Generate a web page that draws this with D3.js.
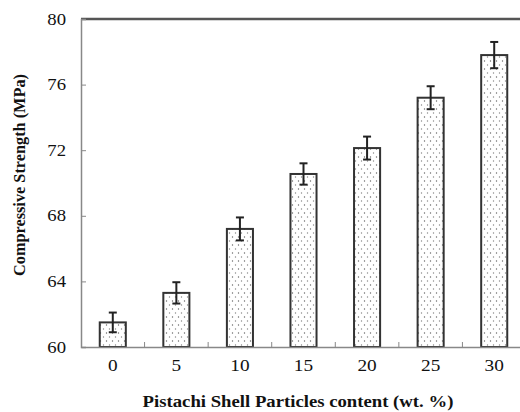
<!DOCTYPE html>
<html>
<head>
<meta charset="utf-8">
<script src="https://cdn.jsdelivr.net/npm/d3@7"></script>
<style>
  body { margin: 0; background: #fff; }
  svg text { font-family: 'Liberation Serif', 'Times New Roman', Times, serif; fill: #111; }
</style>
</head>
<body>
<svg id="chart" width="520" height="412"></svg>
<script>
const contents = ["0", "5", "10", "15", "20", "25", "30"];
const strength = [61.5, 63.3, 67.2, 70.55, 72.13, 75.2, 77.8];
const errors = [0.6, 0.65, 0.7, 0.65, 0.7, 0.7, 0.8];
const yTicks = [60, 64, 68, 72, 76, 80];

// the source figure is a bit stretched sideways, so text gets widened too
const stretch = 1.17;
const svg = d3.select("#chart");
const margin = { top: 19, right: -6, bottom: 65, left: 81 };
const width = +svg.attr("width");
const height = +svg.attr("height");
const innerWidth = width - margin.left - margin.right;
const innerHeight = height - margin.top - margin.bottom;

// dotted fill like the original print
const defs = svg.append("defs");
const pat = defs.append("pattern")
  .attr("id", "dots")
  .attr("patternUnits", "userSpaceOnUse")
  .attr("width", 6).attr("height", 8);
pat.append("rect").attr("width", 6).attr("height", 8).attr("fill", "#fff");
pat.append("circle").attr("cx", 1.5).attr("cy", 2).attr("r", 0.7).attr("fill", "#666");
pat.append("circle").attr("cx", 4.5).attr("cy", 6).attr("r", 0.7).attr("fill", "#888");

const g = svg.append("g")
  .attr("transform", `translate(${margin.left}, ${margin.top})`);

const x = d3.scaleBand()
  .domain(contents)
  .range([0, innerWidth])
  .paddingInner(0.59)
  .paddingOuter(0.295);

const y = d3.scaleLinear()
  .domain([60, 80])
  .range([innerHeight, 0]);

// bars
g.selectAll(".bar")
  .data(strength)
  .join("rect")
  .attr("class", "bar")
  .attr("x", (d, i) => x(contents[i]))
  .attr("y", d => y(d))
  .attr("width", x.bandwidth())
  .attr("height", d => y(60) - y(d))
  .attr("fill", "url(#dots)")
  .attr("stroke", "#333")
  .attr("stroke-width", 2);

// error bars
const eb = g.selectAll(".err")
  .data(strength)
  .join("g")
  .attr("class", "err")
  .attr("transform", (d, i) => `translate(${x(contents[i]) + x.bandwidth() / 2},0)`)
  .attr("stroke", "#222")
  .attr("stroke-width", 2);
eb.append("line")
  .attr("y1", (d, i) => y(d + errors[i]))
  .attr("y2", (d, i) => y(d - errors[i]));
eb.append("line")
  .attr("x1", -4).attr("x2", 4)
  .attr("y1", (d, i) => y(d + errors[i]))
  .attr("y2", (d, i) => y(d + errors[i]));
eb.append("line")
  .attr("x1", -4).attr("x2", 4)
  .attr("y1", (d, i) => y(d - errors[i]))
  .attr("y2", (d, i) => y(d - errors[i]));

// top frame line
g.append("line")
  .attr("x1", 0).attr("x2", innerWidth)
  .attr("y1", 0).attr("y2", 0)
  .attr("stroke", "#555")
  .attr("stroke-width", 2.5);

// y axis
const yAxis = g.append("g")
  .call(d3.axisLeft(y).tickValues(yTicks).tickSize(-5).tickPadding(15 / stretch).tickFormat(d3.format("d")))
  .attr("font-family", null);
yAxis.select(".domain").attr("stroke", "#888").attr("stroke-width", 1.5);
yAxis.selectAll(".tick line").attr("stroke", "#888");
yAxis.selectAll("text")
  .attr("transform", `scale(${stretch},1)`)
  .style("font-size", "16px");

// x axis, ticks sit between categories
const xAxis = g.append("g")
  .attr("transform", `translate(0,${innerHeight})`)
  .call(d3.axisBottom(x).tickSize(0).tickPadding(12.5))
  .attr("font-family", null);
xAxis.select(".domain").attr("stroke", "#888").attr("stroke-width", 1.5);
xAxis.selectAll("text")
  .attr("transform", `scale(${stretch},1)`)
  .style("font-size", "16.5px");
xAxis.selectAll(".sep")
  .data(contents.slice(1))
  .join("line")
  .attr("class", "sep")
  .attr("x1", d => x(d) - x.step() * x.paddingInner() / 2)
  .attr("x2", d => x(d) - x.step() * x.paddingInner() / 2)
  .attr("y1", 0).attr("y2", -5)
  .attr("stroke", "#888");

// axis titles
svg.append("text")
  .attr("transform", "translate(25,175) rotate(-90)")
  .attr("text-anchor", "middle")
  .style("font-size", "16.3px")
  .style("font-weight", "bold")
  .text("Compressive Strength (MPa)");

svg.append("text")
  .attr("transform", `translate(298,407) scale(${stretch},1)`)
  .attr("text-anchor", "middle")
  .style("font-size", "16px")
  .style("font-weight", "bold")
  .text("Pistachi Shell Particles content (wt. %)");
</script>
</body>
</html>
